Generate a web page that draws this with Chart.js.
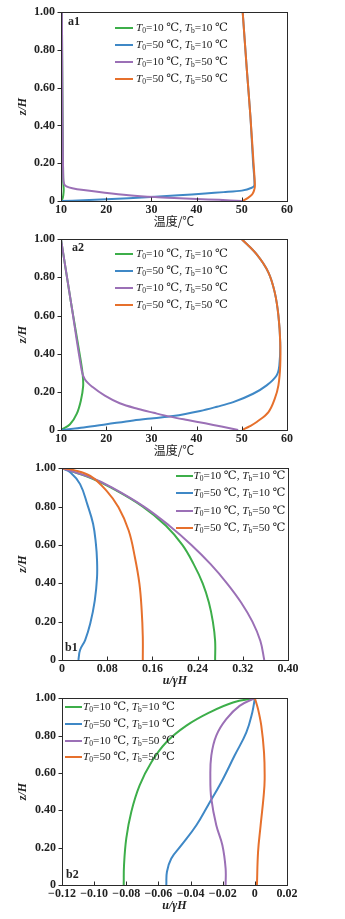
<!DOCTYPE html>
<html><head><meta charset="utf-8">
<script src="https://cdn.jsdelivr.net/npm/chart.js@4/dist/chart.umd.min.js"></script>
<style>
html,body{margin:0;padding:0;background:#fff;width:345px;height:919px;overflow:hidden}
.p{position:absolute;left:0;width:345px}
canvas{display:block}
</style></head><body>
<div class="p"><canvas id="c1"></canvas></div>
<div class="p"><canvas id="c2"></canvas></div>
<div class="p"><canvas id="c3"></canvas></div>
<div class="p"><canvas id="c4"></canvas></div>
<script>
// ---------- DATA ----------
const legendT0 = ['10','50','10','50'];
const legendTb = ['10','10','50','50'];
const tempTicks = [10,20,30,40,50,60];
const zTicks = [0,0.2,0.4,0.6,0.8,1.0];
const b1Ticks = [0,0.08,0.16,0.24,0.32,0.40];
const b2Ticks = [-0.12,-0.10,-0.08,-0.06,-0.04,-0.02,0,0.02];

// a1: [temperature, z/H]
const a1Green  = [[10,0],[10.3,0.01],[10.5,0.03],[10.6,0.06],[10.5,0.1],[10.4,0.3],[10.3,0.6],[10.2,1]];
const a1Blue   = [[10,0],[15,0.004],[20,0.009],[25,0.015],[30.8,0.022],[36,0.03],[41.9,0.04],[46,0.047],[50,0.055],[52.2,0.07],[52.8,0.085],[52.5,0.2],[51.9,0.45],[51.1,0.7],[50.2,1]];
const a1Purple = [[50,0],[45,0.006],[40,0.011],[35,0.016],[30.8,0.021],[25,0.031],[19.7,0.044],[15,0.058],[12.5,0.068],[11.2,0.078],[10.7,0.09],[10.5,0.12],[10.4,0.3],[10.3,0.6],[10.2,1]];
const a1Orange = [[50.2,0],[51.3,0.015],[52.3,0.035],[52.7,0.055],[52.9,0.08],[52.6,0.2],[51.9,0.45],[51.1,0.7],[50.2,1]];

// a2
const a2Green  = [[10,0],[12,0.03],[13.5,0.086],[14.4,0.155],[14.9,0.23],[14.8,0.29],[14.4,0.36],[12.3,0.655],[10,1]];
const a2Blue   = [[10,0],[15,0.013],[20.1,0.03],[26,0.05],[30.5,0.062],[34.8,0.073],[40.8,0.1],[44.5,0.122],[48.1,0.146],[52.5,0.19],[55.5,0.234],[57.7,0.286],[58.3,0.338],[58.5,0.46],[58.1,0.6],[57.3,0.72],[55.9,0.825],[53.3,0.92],[50,1]];
const a2Purple = [[49.2,0],[45.5,0.018],[41.9,0.035],[38,0.052],[34.1,0.07],[30.5,0.09],[27.1,0.11],[23,0.14],[19.7,0.18],[17,0.225],[15.3,0.265],[14.6,0.31],[12.3,0.655],[10,1]];
const a2Orange = [[50.1,0],[51.8,0.02],[53.3,0.042],[55.9,0.094],[57.3,0.164],[58.1,0.234],[58.5,0.338],[58.5,0.46],[58.1,0.6],[57.3,0.72],[55.9,0.825],[53.3,0.92],[50,1]];

// b1: [u/γH, z/H]
const b1Green  = [[0.271,0],[0.271,0.1],[0.267,0.2],[0.26,0.3],[0.249,0.4],[0.233,0.5],[0.213,0.6],[0.184,0.7],[0.143,0.8],[0.086,0.9],[0.05,0.95],[0,1]];
const b1Blue   = [[0.029,0],[0.032,0.052],[0.041,0.104],[0.05,0.19],[0.058,0.31],[0.062,0.43],[0.062,0.52],[0.06,0.606],[0.055,0.71],[0.045,0.81],[0.032,0.917],[0.015,0.978],[0,1]];
const b1Purple = [[0.358,0],[0.351,0.1],[0.337,0.2],[0.317,0.3],[0.292,0.4],[0.263,0.5],[0.229,0.6],[0.19,0.7],[0.145,0.8],[0.088,0.9],[0.052,0.95],[0,1]];
const b1Orange = [[0.143,0],[0.143,0.121],[0.141,0.26],[0.137,0.398],[0.129,0.536],[0.118,0.675],[0.1,0.796],[0.079,0.882],[0.05,0.96],[0.021,0.99],[0,1]];

// b2
const b2Green  = [[-0.0816,0],[-0.0814,0.107],[-0.08,0.249],[-0.0769,0.391],[-0.0717,0.533],[-0.0644,0.657],[-0.0551,0.764],[-0.0426,0.853],[-0.0281,0.924],[-0.0136,0.977],[0,1]];
const b2Blue   = [[-0.0551,0],[-0.0547,0.071],[-0.052,0.142],[-0.0457,0.213],[-0.0364,0.32],[-0.0292,0.426],[-0.0209,0.55],[-0.0126,0.693],[-0.0053,0.817],[-0.0016,0.924],[0,1]];
const b2Purple = [[-0.0182,0],[-0.0182,0.089],[-0.0202,0.213],[-0.024,0.32],[-0.0271,0.462],[-0.0277,0.568],[-0.0271,0.693],[-0.024,0.8],[-0.0178,0.888],[-0.0095,0.959],[0,1]];
const b2Orange = [[0.0013,0],[0.002,0.178],[0.0036,0.32],[0.0055,0.48],[0.0061,0.568],[0.0057,0.71],[0.004,0.853],[0.002,0.941],[0,1]];

// ---------- STYLE ----------
const COLORS = ['#3dae4a','#3f88c6','#9b70b6','#e6702c'];
const SERIF = '"Liberation Serif","DejaVu Serif",serif';
const AX = '#2a2a2a';
const PADT = 12, XH = 32;

function fmtTick(v, dec){
  if (Math.abs(v) < 1e-9) return '0';
  const s = Math.abs(v).toFixed(dec);
  return (v < 0 ? '\u2212' : '') + s;
}

const framePlugin = {
  id: 'frame',
  afterDraw(chart, args, opts) {
    const ctx = chart.ctx, a = chart.chartArea;
    const xs = chart.scales.x, ys = chart.scales.y;
    ctx.save();
    ctx.strokeStyle = AX; ctx.lineWidth = 1;
    ctx.strokeRect(Math.round(a.left)+0.5, Math.round(a.top)+0.5, Math.round(a.right-a.left), Math.round(a.bottom-a.top));
    ctx.beginPath();
    opts.xt.forEach(v => { const px = Math.round(xs.getPixelForValue(v))+0.5; ctx.moveTo(px, a.bottom); ctx.lineTo(px, a.bottom-3.5); });
    opts.yt.forEach(v => { const py = Math.round(ys.getPixelForValue(v))+0.5; ctx.moveTo(a.left, py); ctx.lineTo(a.left-3.5, py); });
    ctx.stroke();
    // panel label
    ctx.fillStyle = '#222';
    ctx.font = 'bold 12px ' + SERIF;
    ctx.textBaseline = 'middle'; ctx.textAlign = 'left';
    ctx.fillText(opts.label, opts.labelX, opts.labelY);
    // legend
    const L = opts.legend;
    for (let i = 0; i < 4; i++) {
      const y = L.rows[i];
      ctx.strokeStyle = COLORS[i]; ctx.lineWidth = 2;
      ctx.beginPath(); ctx.moveTo(L.x0, y); ctx.lineTo(L.x1, y); ctx.stroke();
      let x = L.tx;
      const segs = [
        ['italic 11.3px '+SERIF, 'T', 0],
        ['7.5px '+SERIF, '0', 3],
        ['11.3px '+SERIF, '='+legendT0[i]+' \u2103, ', 0],
        ['italic 11.3px '+SERIF, 'T', 0],
        ['7.5px '+SERIF, 'b', 3],
        ['11.3px '+SERIF, '='+legendTb[i]+' \u2103', 0]
      ];
      ctx.fillStyle = '#222'; ctx.textAlign = 'left'; ctx.textBaseline = 'middle';
      segs.forEach(s => { ctx.font = s[0]; ctx.fillText(s[1], x, y + s[2]); x += ctx.measureText(s[1]).width; });
    }
    ctx.restore();
  }
};

function makeChart(id, p) {
  const el = document.getElementById(id);
  const wrap = el.parentNode;
  const top = p.plotTop - PADT;
  const h = PADT + (p.plotBottom - p.plotTop) + XH;
  wrap.style.top = top + 'px';
  wrap.style.height = h + 'px';
  el.width = 345; el.height = h;
  el.style.width = '345px'; el.style.height = h + 'px';
  const rel = v => v - top;
  const names = ['green','blue','purple','orange'];
  const datasets = p.series.map((s, i) => ({
    label: names[i],
    data: s.map(d => ({x: d[0], y: d[1]})),
    borderColor: COLORS[i],
    backgroundColor: COLORS[i],
    borderWidth: 2,
    pointRadius: 0,
    showLine: true,
    fill: false,
    tension: p.tension,
    order: 4 - i
  }));
  return new Chart(el, {
    type: 'scatter',
    data: { datasets },
    options: {
      responsive: false, animation: false, devicePixelRatio: 1,
      layout: { padding: { left: 0, right: 345 - p.plotRight, top: PADT, bottom: 0 } },
      plugins: {
        legend: { display: false }, tooltip: { enabled: false },
        frame: {
          xt: p.xt, yt: zTicks, label: p.label, labelX: p.labelX, labelY: rel(p.labelY),
          legend: { x0: p.lg.x0, x1: p.lg.x1, tx: p.lg.tx, rows: p.lg.rows.map(rel) }
        }
      },
      scales: {
        x: {
          type: 'linear', min: p.xmin, max: p.xmax,
          afterBuildTicks: s => { s.ticks = p.xt.map(v => ({ value: v })); },
          afterFit: s => { s.height = XH; },
          grid: { display: false, drawTicks: false },
          border: { display: false },
          ticks: { padding: 2, color: '#222', font: { family: SERIF, size: 12, weight: 'bold' }, callback: v => fmtTick(v, p.xdec), maxRotation: 0, autoSkip: false },
          title: { display: true, text: p.xtitle, color: '#222', font: p.xtitleFont, padding: { top: 0, bottom: 4 } }
        },
        y: {
          type: 'linear', min: 0, max: 1,
          afterBuildTicks: s => { s.ticks = zTicks.map(v => ({ value: v })); },
          afterFit: s => { s.width = p.plotLeft; },
          grid: { display: false, drawTicks: false },
          border: { display: false },
          ticks: { padding: 6, color: '#222', font: { family: SERIF, size: 12, weight: 'bold' }, callback: v => fmtTick(v, 2), autoSkip: false },
          title: { display: true, text: 'z/H', color: '#222', font: { family: SERIF, size: 12, style: 'italic', weight: 'bold' }, padding: { top: 16, bottom: 0 } }
        }
      }
    },
    plugins: [framePlugin]
  });
}

const cjkTitle = { family: '"Noto Sans CJK SC",' + SERIF, size: 12 };
const italTitle = { family: SERIF, size: 12, style: 'italic', weight: 'bold' };

makeChart('c1', {
  plotTop: 11, plotBottom: 201, plotLeft: 61, plotRight: 287,
  xmin: 10, xmax: 60, xt: tempTicks, xdec: 0, xtitle: '温度/℃', xtitleFont: cjkTitle,
  series: [a1Green, a1Blue, a1Purple, a1Orange], tension: 0.25,
  label: 'a1', labelX: 68, labelY: 22,
  lg: { x0: 115, x1: 133, tx: 136, rows: [28, 45, 62, 79] }
});
makeChart('c2', {
  plotTop: 238, plotBottom: 430, plotLeft: 61, plotRight: 287,
  xmin: 10, xmax: 60, xt: tempTicks, xdec: 0, xtitle: '温度/℃', xtitleFont: cjkTitle,
  series: [a2Green, a2Blue, a2Purple, a2Orange], tension: 0.35,
  label: 'a2', labelX: 72, labelY: 248,
  lg: { x0: 115, x1: 133, tx: 136, rows: [254, 271, 288, 305] }
});
makeChart('c3', {
  plotTop: 467, plotBottom: 660, plotLeft: 62, plotRight: 288,
  xmin: 0, xmax: 0.40, xt: b1Ticks, xdec: 2, xtitle: 'u/γH', xtitleFont: italTitle,
  series: [b1Green, b1Blue, b1Purple, b1Orange], tension: 0.4,
  label: 'b1', labelX: 65, labelY: 648,
  lg: { x0: 176, x1: 193, tx: 193.5, rows: [476, 493, 511, 528] }
});
makeChart('c4', {
  plotTop: 697, plotBottom: 885, plotLeft: 62, plotRight: 287,
  xmin: -0.12, xmax: 0.02, xt: b2Ticks, xdec: 2, xtitle: 'u/γH', xtitleFont: italTitle,
  series: [b2Green, b2Blue, b2Purple, b2Orange], tension: 0.4,
  label: 'b2', labelX: 66, labelY: 875,
  lg: { x0: 65, x1: 82, tx: 83, rows: [707, 724, 741, 757] }
});
</script>
</body></html>
